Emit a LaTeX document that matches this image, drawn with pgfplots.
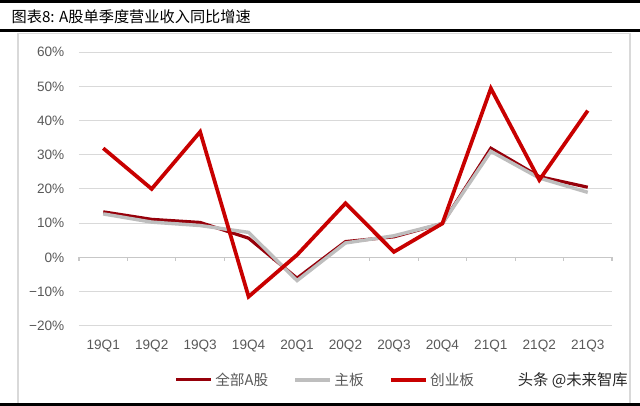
\documentclass[border=0pt]{standalone}
\usepackage{pgfplots}
\pgfplotsset{compat=1.18}
\usepackage{fontspec}
\setmainfont{Liberation Sans}
\newfontfamily\cjk{Noto Sans CJK SC}
\definecolor{cAll}{RGB}{150,0,10}
\definecolor{cMain}{RGB}{190,190,190}
\definecolor{cGem}{RGB}{200,0,0}
\definecolor{txt}{RGB}{89,89,89}
\definecolor{gridc}{RGB}{217,217,217}
\begin{document}
\begin{tikzpicture}
\path[use as bounding box] (0,0) rectangle (480pt,304.5pt);
% frame
\draw[gridc,line width=0.8pt] (13.5pt,0) -- (13.5pt,279.6pt) -- (472.5pt,279.6pt) -- (472.5pt,0);
\draw[black,line width=2pt] (0,303.5pt) -- (480pt,303.5pt);
\draw[black,line width=2.2pt] (0,281.8pt) -- (480pt,281.8pt);
\draw[black,line width=2pt] (0,1.2pt) -- (480pt,1.2pt);
\node[anchor=west,inner sep=0pt,font=\cjk\fontsize{11.4pt}{13pt}\selectfont] at (8.5pt,291.9pt) {图表8: A股单季度营业收入同比增速};
\node[anchor=east,inner sep=0pt,text=black!85,font=\cjk\fontsize{11.5pt}{13pt}\selectfont] at (471pt,19.5pt) {头条 @未来智库};
\begin{axis}[
  at={(59.25pt,60.2pt)}, anchor=south west,
  scale only axis, width=399.75pt, height=205.2pt,
  xmin=-0.5, xmax=10.5, ymin=-20, ymax=60,
  axis line style={draw=none},
  xtick={0,...,10},
  xticklabels={19Q1,19Q2,19Q3,19Q4,20Q1,20Q2,20Q3,20Q4,21Q1,21Q2,21Q3},
  ytick={-20,-10,0,10,20,30,40,50,60},
  yticklabels={−20\%,−10\%,0\%,10\%,20\%,30\%,40\%,50\%,60\%},
  major tick length=0pt,
  tick label style={text=txt,font=\fontsize{10.2pt}{12pt}\selectfont},
  yticklabel style={xshift=-7.5pt},
  xticklabel style={yshift=-7pt},
  ymajorgrids, grid style={gridc,line width=0.8pt},
  clip=false,
  legend columns=3,
  legend style={at={(rel axis cs:0.463,-0.198)},anchor=center,draw=none,fill=none,
    font=\cjk\fontsize{11pt}{12pt}\selectfont,text=txt,
    /tikz/every even column/.append style={column sep=17pt}},
  legend cell align=left,
  legend image code/.code={\draw[#1] (0pt,0pt) -- (26pt,0pt);},
]
\draw[gridc!80!gray,line width=0.8pt] (axis cs:-0.5,0) -- (axis cs:10.5,0);
\pgfplotsinvokeforeach{-0.5,0.5,1.5,2.5,3.5,4.5,5.5,6.5,7.5,8.5,9.5,10.5}{\draw[gridc!80!gray,line width=0.8pt] (axis cs:#1,0) -- ++(0pt,-3pt);}
\addplot[cAll,line width=2.4pt] coordinates {
(0,13.3) (1,11.1) (2,10.2) (3,5.6) (4,-6.1) (5,4.6) (6,6.0) (7,9.9) (8,31.9) (9,23.6) (10,20.5)};
\addlegendentry{全部A股}
\addplot[cMain,line width=2.6pt] coordinates {
(0,12.7) (1,10.3) (2,9.3) (3,7.3) (4,-6.8) (5,4.2) (6,6.3) (7,9.9) (8,31.0) (9,23.2) (10,19.0)};
\addlegendentry{主板}
\addplot[cGem,line width=2.8pt] coordinates {
(0,31.9) (1,20.0) (2,36.7) (3,-11.5) (4,0.7) (5,15.8) (6,1.6) (7,9.9) (8,49.4) (9,22.6) (10,42.9)};
\addlegendentry{创业板}
\end{axis}
\end{tikzpicture}
\end{document}
